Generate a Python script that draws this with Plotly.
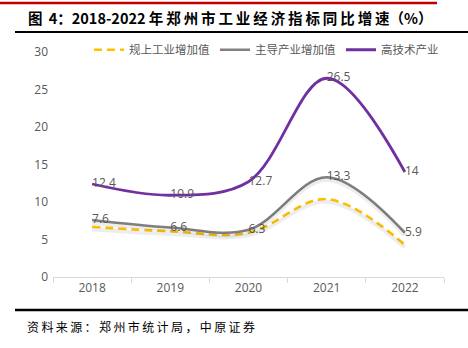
import plotly.graph_objects as go

years = ["2018", "2019", "2020", "2021", "2022"]
guishang = [6.7, 6.1, 5.9, 10.4, 4.3]          # 规上工业增加值 (estimated, unlabeled)
zhudao = [7.6, 6.6, 6.3, 13.3, 5.9]            # 主导产业增加值
gaojishu = [12.4, 10.9, 12.7, 26.5, 14]        # 高技术产业
names = ["规上工业增加值", "主导产业增加值", "高技术产业"]
y_ticks = [0, 5, 10, 15, 20, 25, 30]

TS = "\u2009"
title_text = "图" + TS + " 4：2018-2022 " + TS.join("年郑州市工业经济指标同比增速") + "（%）"
source_text = TS.join("资料来源：郑州市统计局，中原证券")

font_main = "Noto Sans CJK SC"
label_color = "#595959"

fig = go.Figure()

# subtle shadows, drawn on an overlay axis shifted a few pixels down
for vals in (guishang, zhudao):
    fig.add_trace(go.Scatter(
        x=years, y=vals, mode="lines", yaxis="y2",
        line=dict(color="rgba(0,0,0,0.07)", width=4, shape="spline", smoothing=1.0),
        showlegend=False, hoverinfo="skip"))

fig.add_trace(go.Scatter(
    x=years, y=guishang, mode="lines", name=names[0],
    line=dict(color="#FFC000", width=2.6, dash="8px,5px", shape="spline", smoothing=1.0)))
fig.add_trace(go.Scatter(
    x=years, y=zhudao, mode="lines+text", name=names[1],
    text=[str(v) for v in zhudao], textposition="middle right",
    textfont=dict(color=label_color, size=12, family="Open Sans"),
    line=dict(color="#808080", width=2.6, shape="spline", smoothing=1.0)))
fig.add_trace(go.Scatter(
    x=years, y=gaojishu, mode="lines+text", name=names[2],
    text=[str(v) for v in gaojishu], textposition="middle right",
    textfont=dict(color=label_color, size=12, family="Open Sans"),
    line=dict(color="#7030A0", width=2.8, shape="spline", smoothing=1.0)))

fig.update_layout(
    width=468, height=348,
    margin=dict(l=53, r=24, t=52, b=71),
    paper_bgcolor="white", plot_bgcolor="white",
    font=dict(family=font_main, color=label_color, size=12),
    xaxis=dict(type="category", range=[-0.5, 4.5], showgrid=False,
               showline=True, linecolor="#D9D9D9", linewidth=1,
               ticks="outside", tickson="boundaries", ticklen=5, tickcolor="#D9D9D9",
               tickfont=dict(family="Open Sans", size=12, color=label_color)),
    yaxis=dict(range=[0, 30], tickvals=y_ticks, showgrid=False, zeroline=False,
               showline=False, ticks="", ticklabelstandoff=4,
               tickfont=dict(family="Open Sans", size=12, color=label_color)),
    yaxis2=dict(range=[0.35, 30.35], overlaying="y", visible=False),
    legend=dict(orientation="h", x=1.0, xanchor="right", y=1.01, yanchor="middle",
                font=dict(family=font_main, size=11.5, color=label_color),
                itemwidth=30, tracegroupgap=0, bgcolor="rgba(0,0,0,0)"),
    shapes=[
        dict(type="line", xref="paper", yref="paper", x0=-53/391, x1=(437-53)/391,
             y0=(277-3)/225, y1=(277-3)/225, line=dict(color="#C00000", width=2.5)),
        dict(type="line", xref="paper", yref="paper", x0=(15-53)/391, x1=(468-53)/391,
             y0=(277-32)/225, y1=(277-32)/225, line=dict(color="black", width=2)),
        dict(type="line", xref="paper", yref="paper", x0=(15-53)/391, x1=(468-53)/391,
             y0=(277-310)/225, y1=(277-310)/225, line=dict(color="black", width=2.5)),
    ],
    annotations=[
        dict(text="<b>" + title_text + "</b>", xref="paper", yref="paper",
             x=(26-53)/391, y=(277-17)/225, xanchor="left", yanchor="middle",
             showarrow=False, font=dict(family=font_main, size=14.5, color="black")),
        dict(text=source_text, xref="paper", yref="paper",
             x=(25-53)/391, y=(277-326)/225, xanchor="left", yanchor="middle",
             showarrow=False, font=dict(family=font_main, size=12, color="black")),
    ],
)

fig.write_html("out.html")
